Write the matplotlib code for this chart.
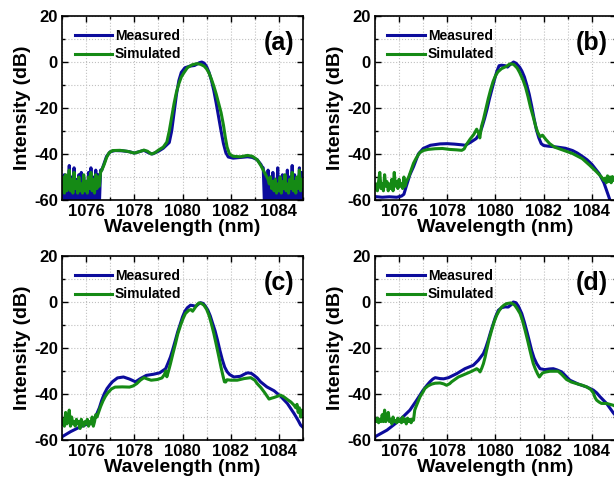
import numpy as np
import matplotlib
matplotlib.use("Agg")
import matplotlib.pyplot as plt
from matplotlib.ticker import MultipleLocator

plt.rcParams['font.family'] = ['Liberation Sans', 'DejaVu Sans']
plt.rcParams['font.weight'] = 'bold'
plt.rcParams['axes.unicode_minus'] = False

# fine grids for the noisy edges of the spectra
wl_left = np.linspace(1075.0, 1076.6, 33)
wl_right = np.linspace(1083.35, 1085.0, 34)

# ---- (a) ----
a_meas_left = [-50, -62, -49, -62, -51, -62, -45, -62, -50, -62, -46, -62, -51, -62, -49, -62, -48,
               -62, -50, -62, -52, -62, -48, -62, -46, -62, -50, -62, -47, -62, -49, -62, -47]
a_meas_wl = [1076.65, 1076.75, 1076.85, 1077.0, 1077.2, 1077.5, 1077.8, 1078.0, 1078.2, 1078.4, 1078.6,
             1078.75, 1079.0, 1079.2, 1079.35, 1079.45, 1079.55, 1079.65, 1079.75, 1079.85, 1079.95,
             1080.1, 1080.3, 1080.5, 1080.7, 1080.8, 1080.9, 1081.0, 1081.1, 1081.2, 1081.3, 1081.4,
             1081.5, 1081.6, 1081.7, 1081.8, 1081.9, 1082.1, 1082.4, 1082.7, 1082.9, 1083.1, 1083.25, 1083.3]
a_meas_db = [-47, -44, -41, -39, -38.5, -38.6, -39, -39.6, -39, -38.4, -39.5,
             -40, -38.8, -37.5, -36, -35, -30, -22, -14, -8, -4.5,
             -2.5, -1.8, -1.5, -0.3, 0, -0.5, -2, -4.5, -8, -12.5, -18,
             -24, -30, -35.5, -39.5, -41.3, -41.8, -41.5, -41.2, -41.5, -42.5, -44.5, -45.5]
a_meas_right = [-46, -62, -49, -62, -47, -62, -50, -62, -48, -62, -51, -62, -46, -62, -50, -62, -49,
                -62, -52, -62, -47, -62, -50, -62, -45, -62, -49, -62, -51, -62, -46, -62, -48, -62]

a_sim_left = [-55, -50, -57, -49, -56, -52, -47, -56, -51, -57, -48, -55, -52, -57, -50, -56, -53,
              -57, -49, -56, -52, -57, -50, -55, -48, -56, -51, -57, -49, -55, -50, -54, -48]
a_sim_wl = [1076.65, 1076.75, 1076.85, 1076.95, 1077.1, 1077.4, 1077.7, 1078.0, 1078.2, 1078.4, 1078.55,
            1078.7, 1078.85, 1079.0, 1079.2, 1079.35, 1079.45, 1079.55, 1079.65, 1079.75, 1079.85,
            1079.95, 1080.05, 1080.2, 1080.4, 1080.6, 1080.75, 1080.9, 1081.0, 1081.1, 1081.2, 1081.3,
            1081.4, 1081.5, 1081.6, 1081.7, 1081.78, 1081.85, 1081.95, 1082.1, 1082.4, 1082.7, 1082.9,
            1083.1, 1083.25, 1083.3]
a_sim_db = [-47, -44.5, -41.5, -39.5, -38.5, -38.4, -38.8, -39.6, -39, -38.3, -38.8,
            -40, -39.5, -38.3, -37, -34.8, -30, -24, -18, -13, -9.4,
            -6.5, -4.8, -2.5, -1.2, -0.7, -1, -1.8, -3, -4.8, -7.5, -10.5,
            -14, -18, -22, -27.5, -33, -37, -40, -41, -41.2, -40.6, -41,
            -42.5, -45, -46]
a_sim_right = [-47, -48, -49, -50, -51, -53, -50, -55, -52, -56, -51, -57, -53, -56, -50, -57, -52,
               -55, -49, -56, -53, -57, -51, -55, -48, -56, -52, -57, -50, -55, -47, -56, -51, -54]

# ---- (b) ----
b_meas_wl = [1075.0, 1075.3, 1075.6, 1075.9, 1076.1, 1076.2, 1076.3, 1076.45, 1076.6, 1076.8, 1077.0,
             1077.3, 1077.7, 1078.0, 1078.3, 1078.6, 1078.75, 1078.95, 1079.2, 1079.35, 1079.45,
             1079.55, 1079.65, 1079.75, 1079.85, 1079.95, 1080.05, 1080.15, 1080.25, 1080.4, 1080.5,
             1080.6, 1080.75, 1080.85, 1081.0, 1081.1, 1081.2, 1081.3, 1081.4, 1081.5, 1081.6, 1081.7,
             1081.8, 1081.9, 1082.0, 1082.2, 1082.5, 1082.9, 1083.2, 1083.4, 1083.6, 1083.8, 1084.0,
             1084.15, 1084.3, 1084.4, 1084.5, 1084.6, 1084.7, 1084.78, 1085.0]
b_meas_db = [-58.5, -58.8, -58.6, -58.8, -58.3, -57.5, -54, -49, -45.5, -40, -37.6,
             -36.2, -35.6, -35.5, -35.7, -36, -36.2, -35, -33.3, -31, -28,
             -24.5, -20.5, -16, -12, -8, -4.3, -1.6, -1.4, -1.6, -2.2,
             -1.2, 0, -0.5, -2.2, -4, -6.5, -10, -14, -19, -24.5, -29.5,
             -33, -35.5, -36.3, -36.6, -36.9, -37.5, -38.5, -39.6, -41, -42.5, -44.5,
             -46.5, -48.5, -50.5, -52.5, -55.5, -58.5, -61, -63]

b_sim_left = [-55, -53, -56, -52, -48, -55, -53, -56, -49, -54, -52, -56, -53, -55, -51, -56, -48,
              -54, -52, -55, -51, -54, -53, -55, -50, -54, -52, -51, -50, -48.5, -47, -45.5, -44]
b_sim_wl = [1076.7, 1076.85, 1077.0, 1077.2, 1077.5, 1077.8, 1078.1, 1078.4, 1078.6, 1078.7, 1078.8,
            1078.95, 1079.1, 1079.22, 1079.3, 1079.35, 1079.42, 1079.5, 1079.6, 1079.7, 1079.8,
            1079.9, 1080.0, 1080.1, 1080.25, 1080.45, 1080.6, 1080.75, 1080.9, 1081.0, 1081.15,
            1081.25, 1081.35, 1081.45, 1081.57, 1081.67, 1081.75, 1081.85, 1081.95, 1082.1, 1082.25,
            1082.45, 1082.8, 1083.2, 1083.6, 1083.9, 1084.2, 1084.4, 1084.5, 1084.55, 1084.6,
            1084.65, 1084.7, 1084.75, 1084.8, 1084.85, 1084.9, 1084.95, 1085.0]
b_sim_db = [-42, -39.5, -38.5, -38, -37.7, -37.6, -38, -38.2, -38.4, -37.8, -35.8,
            -33.5, -31.5, -29.2, -31, -33, -28, -25, -20.5, -16, -12,
            -8.5, -6, -4.3, -2.9, -1.9, -0.8, -1, -2.6, -4.5, -8,
            -11, -15, -19.5, -24, -28, -30.5, -32.5, -31.8, -33.8, -35.5,
            -37, -38.3, -39.8, -42, -44.8, -47.8, -50, -51.5, -50.5, -52.5,
            -49.5, -52, -50, -52.5, -49.8, -51.5, -50.2, -51]

# ---- (c) ----
c_meas_wl = [1075.0, 1075.35, 1075.75, 1076.15, 1076.3, 1076.45, 1076.55, 1076.65, 1076.75, 1076.87,
             1077.0, 1077.1, 1077.3, 1077.55, 1077.8, 1078.05, 1078.25, 1078.5, 1078.8, 1079.05,
             1079.3, 1079.4, 1079.5, 1079.6, 1079.7, 1079.8, 1079.9, 1080.0, 1080.1, 1080.2, 1080.33,
             1080.45, 1080.55, 1080.65, 1080.75, 1080.85, 1080.95, 1081.05, 1081.15, 1081.25, 1081.35,
             1081.45, 1081.55, 1081.65, 1081.75, 1081.85, 1081.95, 1082.13, 1082.4, 1082.6, 1082.7,
             1082.85, 1082.96, 1083.1, 1083.24, 1083.5, 1083.8, 1084.07, 1084.35, 1084.63, 1084.8,
             1084.9, 1085.0]
c_meas_db = [-58.6, -56.4, -54.3, -52.7, -51.5, -48.5, -46, -42.7, -40, -37.6,
             -35.8, -34.6, -33, -32.6, -33.5, -34.7, -33.3, -31.9, -31.4, -30.8,
             -29, -26.5, -23.9, -20.5, -16.8, -13, -9.8, -6.5, -4, -2.5, -1.4,
             -1.6, -1.9, -1, -0.3, -0.6, -1.8, -3.5, -6, -9.3, -12.5,
             -16.5, -21, -25, -28.3, -30.3, -31.5, -32.6, -32.3, -31.2, -30.8,
             -31, -31.8, -33, -34.7, -36.9, -38.6, -41, -44.1, -48.5, -51.5,
             -53.5, -54.5]

c_sim_left = [-53, -51, -54, -48, -53, -52, -47, -54, -50, -53, -52, -54, -51, -53, -52, -55, -51,
              -53, -54, -52, -53, -51, -54, -52, -53, -50, -54, -52, -49, -50, -48.5, -47, -45.5]
c_sim_wl = [1076.7, 1076.8, 1076.9, 1077.05, 1077.2, 1077.5, 1077.8, 1077.95, 1078.1, 1078.25, 1078.4,
            1078.55, 1078.7, 1078.95, 1079.15, 1079.25, 1079.3, 1079.35, 1079.42, 1079.5, 1079.6,
            1079.71, 1079.8, 1079.92, 1080.02, 1080.12, 1080.26, 1080.35, 1080.42, 1080.5, 1080.6,
            1080.68, 1080.78, 1080.89, 1081.0, 1081.1, 1081.2, 1081.3, 1081.4, 1081.51, 1081.6,
            1081.69, 1081.74, 1081.79, 1081.85, 1082.0, 1082.27, 1082.55, 1082.83, 1083.0, 1083.1,
            1083.25, 1083.38, 1083.5, 1083.59, 1083.7, 1083.8, 1084.07, 1084.2, 1084.35, 1084.5,
            1084.63, 1084.7, 1084.75, 1084.8, 1084.85, 1084.9, 1084.95, 1085.0]
c_sim_db = [-43, -41, -39.5, -37.8, -37, -36.9, -37, -36.5, -35.5, -34, -32.9,
            -33.5, -34, -33.7, -33, -31.5, -30, -32.5, -30, -26.8, -22.5,
            -18, -14, -10.1, -7.3, -5, -3.6, -3.3, -4, -2.8, -1.2,
            -0.4, -0.6, -1.4, -3.2, -5.8, -9.5, -13.7, -18.5, -23.9, -28.5,
            -32.6, -34.7, -34.8, -33.8, -34, -34, -33.3, -32.9, -34, -35.5,
            -37.2, -39, -40.8, -42.2, -41.8, -41.5, -40.5, -41.2, -42.4, -43.5,
            -44.9, -46, -44.5, -48, -46, -50, -47, -49]

# ---- (d) ----
d_meas_wl = [1075.0, 1075.5, 1076.0, 1076.45, 1076.73, 1077.0, 1077.15, 1077.28, 1077.4, 1077.5,
             1077.7, 1077.85, 1078.05, 1078.4, 1078.73, 1079.08, 1079.29, 1079.5, 1079.6, 1079.7,
             1079.8, 1079.91, 1080.0, 1080.12, 1080.25, 1080.4, 1080.53, 1080.65, 1080.74, 1080.85,
             1080.95, 1081.09, 1081.2, 1081.29, 1081.4, 1081.5, 1081.6, 1081.71, 1081.85, 1082.05,
             1082.25, 1082.4, 1082.55, 1082.75, 1082.9, 1083.09, 1083.44, 1083.78, 1084.06, 1084.2,
             1084.34, 1084.61, 1084.89, 1085.0]
d_meas_db = [-58.6, -55.7, -51.6, -47, -42.7, -38.3, -36.3, -34.7, -33.5, -32.9,
             -33.3, -33.4, -32.9, -31.1, -29, -27.5, -25.3, -22.4, -19.8, -16.6,
             -13, -9.4, -6.5, -3.6, -2.5, -2.1, -2.2, -1.2, 0, -0.3,
             -1.8, -5, -8.8, -12.3, -16.8, -21, -24.3, -26.8, -29, -29.4,
             -29.1, -29, -29.5, -30.4, -32, -34, -35.7, -36.9, -38.3, -39.5,
             -41.2, -44.1, -48.2, -49.5]

d_sim_left = [-51, -52, -50.5, -52.5, -51, -52, -49, -52, -47, -52, -50, -48, -52, -51, -53, -50, -52,
              -51.5, -52.5, -50.5, -52, -51, -52.5, -50, -52, -51, -53, -50.5, -52, -51, -52.5, -51, -51.4]
d_sim_wl = [1076.65, 1076.7, 1076.8, 1076.87, 1077.0, 1077.07, 1077.2, 1077.35, 1077.5, 1077.7,
            1077.85, 1077.97, 1078.1, 1078.18, 1078.3, 1078.46, 1078.6, 1078.8, 1079.0, 1079.15,
            1079.22, 1079.3, 1079.36, 1079.43, 1079.5, 1079.57, 1079.63, 1079.73, 1079.84, 1079.95,
            1080.05, 1080.15, 1080.26, 1080.36, 1080.46, 1080.63, 1080.72, 1080.8, 1080.9, 1081.02,
            1081.12, 1081.23, 1081.33, 1081.43, 1081.5, 1081.57, 1081.65, 1081.74, 1081.82, 1081.9,
            1081.96, 1082.1, 1082.26, 1082.6, 1082.75, 1082.95, 1083.15, 1083.37, 1083.6, 1083.78,
            1083.95, 1084.06, 1084.13, 1084.2, 1084.3, 1084.4, 1084.61, 1084.75, 1084.89, 1085.0]
d_sim_db = [-47, -45.6, -43, -41.2, -39, -37.6, -36.5, -35.7, -35.3, -35.2,
            -35.6, -36.2, -35.5, -34.7, -33.8, -32.6, -32, -31.1, -30.2, -29.4,
            -29, -29.6, -30.4, -28.8, -26.8, -24, -21, -16.5, -12.3, -8.5,
            -5.8, -3.8, -2.2, -1.3, -0.7, -0.4, -0.8, -1.4, -2.9, -5,
            -8, -12.3, -16.5, -21, -24, -26.8, -29, -31.1, -32.6, -31.5,
            -30.8, -30.4, -30.1, -30.1, -31.5, -33.7, -34.8, -35.5, -36.2, -36.9,
            -38, -39.5, -41.5, -42.7, -43.5, -44.1, -44.1, -44.5, -44.9, -45.5]


def curve(wl, db, left=None, right=None):
    x, y = list(wl), list(db)
    if left is not None:
        x = list(wl_left) + x
        y = list(left) + y
    if right is not None:
        x = x + list(wl_right)
        y = y + list(right)
    return x, y


panels = [
    ('(a)', [0.101, 0.5893], curve(a_meas_wl, a_meas_db, a_meas_left, a_meas_right),
     curve(a_sim_wl, a_sim_db, a_sim_left, a_sim_right)),
    ('(b)', [0.6107, 0.5893], curve(b_meas_wl, b_meas_db), curve(b_sim_wl, b_sim_db, b_sim_left)),
    ('(c)', [0.101, 0.0965], curve(c_meas_wl, c_meas_db), curve(c_sim_wl, c_sim_db, c_sim_left)),
    ('(d)', [0.6107, 0.0965], curve(d_meas_wl, d_meas_db), curve(d_sim_wl, d_sim_db, d_sim_left)),
]

blue = '#0c0c9c'
green = '#158a15'

fig = plt.figure(figsize=(6.14, 4.87), dpi=100)

for tag, pos, meas, sim in panels:
    ax = fig.add_axes([pos[0], pos[1], 0.3925, 0.3778])
    ax.plot(meas[0], meas[1], color=blue, lw=2.2, label='Measured')
    ax.plot(sim[0], sim[1], color=green, lw=2.2, label='Simulated')

    ax.set_xlim(1075, 1085)
    ax.set_ylim(-60, 20)
    ax.xaxis.set_major_locator(MultipleLocator(2))
    ax.xaxis.set_minor_locator(MultipleLocator(1))
    ax.yaxis.set_major_locator(MultipleLocator(20))
    ax.yaxis.set_minor_locator(MultipleLocator(10))
    ax.grid(True, which='both', color='#c0c0c0', linestyle=':', linewidth=0.8)
    ax.set_axisbelow(True)
    ax.tick_params(which='both', direction='in', top=True, right=True, width=1.0)
    ax.tick_params(which='major', length=4, labelsize=12, pad=3)
    ax.tick_params(which='minor', length=2.5)
    for s in ax.spines.values():
        s.set_linewidth(1.2)
    for lab in ax.get_xticklabels() + ax.get_yticklabels():
        lab.set_fontweight('bold')

    ax.set_xlabel('Wavelength (nm)', fontsize=14, fontweight='bold', labelpad=0)
    ax.set_ylabel('Intensity (dB)', fontsize=14, fontweight='bold', labelpad=2)
    ax.legend(loc='upper left', frameon=False, handlelength=2.7,
              handletextpad=0.2, labelspacing=0.35, borderaxespad=0.5,
              prop={'weight': 'bold', 'size': 10})
    ax.text(0.9, 0.853, tag, transform=ax.transAxes, ha='center', va='center',
            fontsize=18, fontweight='bold')

fig.savefig('out.png', dpi=100)
